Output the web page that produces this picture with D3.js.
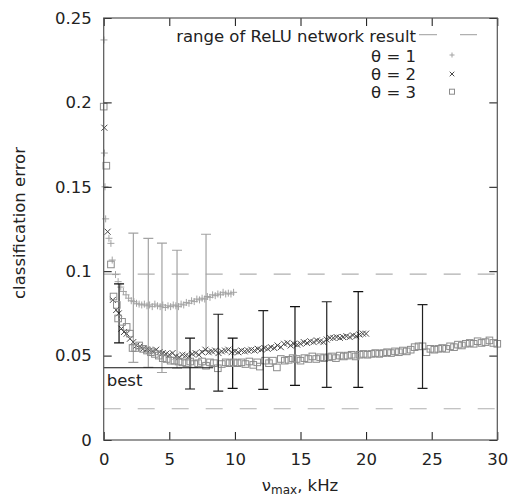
<!DOCTYPE html>
<html><head><meta charset="utf-8">
<script src="https://cdn.jsdelivr.net/npm/d3@7"></script>
<style>body{margin:0;background:#fff}svg{display:block}text{font-family:"DejaVu Sans",sans-serif}</style>
</head><body>
<script>
// ---- data ----
const xTicks = [0, 5, 10, 15, 20, 25, 30];
const yTicks = [0, 0.05, 0.1, 0.15, 0.2, 0.25];
const yTickLabels = ["0", "0.05", "0.1", "0.15", "0.2", "0.25"];
const reluRange = [0.0983, 0.0185];
const bestValue = 0.0428;
const bestXMax = 8.35;

const x1 = [0.02,0.05,0.1,0.15,0.4,0.55,0.65,0.9,1.1,1.3,1.5,1.7,1.9,2.1,2.3,2.5,2.7,2.9,3.1,3.3,3.5,3.7,3.9,4.1,4.3,4.5,4.7,4.9,5.1,5.3,5.5,5.7,5.9,6.1,6.3,6.5,6.7,6.9,7.1,7.3,7.5,7.7,7.9,8.1,8.3,8.5,8.7,8.9,9.1,9.3,9.5,9.7,9.9];
const y1 = [0.237,0.170,0.150,0.131,0.1195,0.1165,0.1066,0.098,0.0938,0.0906,0.088,0.086,0.084,0.0825,0.082,0.081,0.0805,0.080,0.0805,0.0795,0.080,0.079,0.0805,0.0795,0.079,0.080,0.0785,0.0795,0.079,0.080,0.0795,0.079,0.0805,0.080,0.0815,0.081,0.0825,0.082,0.0835,0.083,0.084,0.0835,0.085,0.0845,0.086,0.0855,0.0865,0.086,0.0875,0.0865,0.087,0.0865,0.0875];

const x2 = [0.05,0.3,0.7,0.95,1.15,1.35,1.55,1.75,2.0,2.25,2.5,2.75,3.0,3.25,3.5,3.75,4.0,4.25,4.5,4.75,5.0,5.25,5.5,5.75,6.0,6.25,6.5,6.75,7.0,7.25,7.5,7.75,8.0,8.25,8.5,8.75,9.0,9.25,9.5,9.75,10.0,10.25,10.5,10.75,11.0,11.25,11.5,11.75,12.0,12.25,12.5,12.75,13.0,13.25,13.5,13.75,14.0,14.25,14.5,14.75,15.0,15.25,15.5,15.75,16.0,16.25,16.5,16.75,17.0,17.25,17.5,17.75,18.0,18.25,18.5,18.75,19.0,19.25,19.5,19.75,20.0];
const y2 = [0.185,0.1234,0.083,0.077,0.075,0.066,0.064,0.063,0.060,0.058,0.056,0.0555,0.054,0.0535,0.053,0.0525,0.0535,0.052,0.0515,0.051,0.0505,0.0515,0.0495,0.049,0.0505,0.050,0.0495,0.051,0.0515,0.0505,0.052,0.0535,0.052,0.0525,0.053,0.0515,0.0525,0.053,0.0535,0.052,0.0525,0.052,0.053,0.0525,0.053,0.0535,0.053,0.054,0.0535,0.0545,0.054,0.055,0.0545,0.056,0.055,0.057,0.0575,0.056,0.057,0.0565,0.057,0.058,0.0575,0.0585,0.058,0.059,0.0585,0.058,0.0595,0.0605,0.0605,0.061,0.0605,0.061,0.0615,0.061,0.062,0.0615,0.0625,0.063,0.063];

const x3 = [0.0,0.2,0.55,0.75,1.0,1.1,1.4,1.75,2.0,2.2,2.4,2.7,3.0,3.3,3.6,3.9,4.2,4.5,4.8,5.1,5.4,5.7,6.0,6.3,6.6,6.9,7.2,7.5,7.8,8.1,8.4,8.7,9.0,9.3,9.6,9.9,10.2,10.5,10.8,11.1,11.4,11.7,11.9,12.3,12.6,12.9,13.2,13.5,13.8,14.1,14.4,14.7,15.0,15.3,15.6,15.9,16.2,16.5,16.8,17.1,17.4,17.7,18.0,18.3,18.6,18.9,19.2,19.5,19.8,20.1,20.4,20.7,21.0,21.3,21.6,21.9,22.2,22.5,22.8,23.1,23.4,23.7,24.0,24.3,24.6,24.9,25.2,25.5,25.8,26.1,26.4,26.7,27.0,27.3,27.6,27.9,28.2,28.5,28.8,29.1,29.4,29.7,30.0];
const y3 = [0.1975,0.1625,0.104,0.085,0.080,0.072,0.070,0.067,0.063,0.0545,0.0545,0.056,0.054,0.053,0.052,0.051,0.050,0.0485,0.048,0.047,0.047,0.0465,0.046,0.0455,0.0465,0.045,0.0455,0.0465,0.044,0.046,0.0455,0.0425,0.045,0.046,0.0455,0.046,0.0455,0.046,0.045,0.0465,0.0445,0.046,0.0435,0.047,0.0455,0.047,0.043,0.048,0.047,0.0475,0.0485,0.048,0.047,0.0485,0.048,0.0495,0.048,0.049,0.0485,0.049,0.0495,0.0485,0.050,0.0495,0.050,0.0505,0.0495,0.0505,0.051,0.0505,0.051,0.0515,0.051,0.0515,0.052,0.0515,0.0525,0.052,0.053,0.0525,0.0535,0.055,0.0555,0.0555,0.052,0.054,0.0535,0.054,0.0545,0.054,0.0555,0.055,0.0565,0.056,0.057,0.0575,0.057,0.0585,0.0575,0.058,0.059,0.0575,0.057];

const errX1 = [2.26, 3.4, 4.44, 5.59, 7.8];
const errLo1 = [0.046, 0.043, 0.040, 0.0425, 0.053];
const errHi1 = [0.1225, 0.1195, 0.1166, 0.1124, 0.1219];
const errX2 = [1.17, 6.58, 9.83, 14.58, 19.4];
const errLo2 = [0.0575, 0.0302, 0.0306, 0.0324, 0.0312];
const errHi2 = [0.0925, 0.0604, 0.0604, 0.079, 0.0879];
const errX3 = [8.73, 12.16, 17.0, 24.3];
const errLo3 = [0.029, 0.030, 0.0312, 0.0306];
const errHi3 = [0.0745, 0.0766, 0.0819, 0.0802];

const legendLabels = ["range of ReLU network result", "\u03b8 = 1", "\u03b8 = 2", "\u03b8 = 3"];

// ---- drawing ----
const W = 510, H = 497;
const L = 103.7, R = 497.3, T = 18, B = 440;
const x = d3.scaleLinear().domain([0, 30]).range([L, R]);
const y = d3.scaleLinear().domain([0, 0.25]).range([B, T]);

const svg = d3.select("body").append("svg").attr("width", W).attr("height", H);

const c1 = "#a3a3a3", c2 = "#4a4a4a", c3 = "#8c8c8c";

// dashed range lines
svg.append("g").selectAll("line").data(reluRange).join("line")
  .attr("x1", x(0)).attr("x2", x(30)).attr("y1", d => y(d)).attr("y2", d => y(d))
  .attr("stroke", "#b0b0b0").attr("stroke-width", 1.2).attr("stroke-dasharray", "17,17");

function plus(g, px, py, s, col) {
  g.append("path").attr("d", `M${px - s},${py}H${px + s}M${px},${py - s}V${py + s}`)
    .attr("stroke", col).attr("stroke-width", 1).attr("fill", "none");
}
function cross(g, px, py, s, col) {
  g.append("path").attr("d", `M${px - s},${py - s}L${px + s},${py + s}M${px - s},${py + s}L${px + s},${py - s}`)
    .attr("stroke", col).attr("stroke-width", 1).attr("fill", "none");
}
function square(g, px, py, s, col) {
  g.append("rect").attr("x", px - s).attr("y", py - s).attr("width", 2 * s).attr("height", 2 * s)
    .attr("stroke", col).attr("stroke-width", 1).attr("fill", "none");
}
function errBars(xs, lo, hi, col) {
  const g = svg.append("g").attr("stroke", col).attr("stroke-width", 1.2).attr("fill", "none");
  xs.forEach((v, i) => {
    const px = x(v), a = y(lo[i]), b = y(hi[i]);
    g.append("path").attr("d", `M${px},${a}V${b}M${px - 5},${a}H${px + 5}M${px - 5},${b}H${px + 5}`);
  });
}

const g1 = svg.append("g");
x1.forEach((v, i) => plus(g1, x(v), y(y1[i]), 3.5, c1));
errBars(errX1, errLo1, errHi1, c1);
const g2 = svg.append("g");
x2.forEach((v, i) => cross(g2, x(v), y(y2[i]), 3, c2));
errBars(errX2, errLo2, errHi2, "#111");
const g3 = svg.append("g");
x3.forEach((v, i) => square(g3, x(v), y(y3[i]), 3.3, c3));
errBars(errX3, errLo3, errHi3, "#222");

// best line
svg.append("line").attr("x1", x(0)).attr("x2", x(bestXMax)).attr("y1", y(bestValue)).attr("y2", y(bestValue))
  .attr("stroke", "#111").attr("stroke-width", 1.2);
const fs = 16.5;
svg.append("text").attr("x", x(0) + 3).attr("y", y(bestValue) + 18).attr("font-size", fs).attr("fill", "#222").text("best");

// axes
const ax = svg.append("g").attr("transform", `translate(0,${B})`)
  .call(d3.axisBottom(x).tickValues(xTicks).tickSizeInner(-8).tickSizeOuter(0).tickPadding(13).tickFormat(d3.format("d")));
const ay = svg.append("g").attr("transform", `translate(${L},0)`)
  .call(d3.axisLeft(y).tickValues(yTicks).tickSizeInner(-8).tickSizeOuter(0).tickPadding(12).tickFormat((d, i) => yTickLabels[i]));
const at = svg.append("g").attr("transform", `translate(0,${T})`)
  .call(d3.axisTop(x).tickValues(xTicks).tickSizeInner(-8).tickSizeOuter(0).tickFormat(""));
const ar = svg.append("g").attr("transform", `translate(${R},0)`)
  .call(d3.axisRight(y).tickValues(yTicks).tickSizeInner(-8).tickSizeOuter(0).tickFormat(""));
[ax, ay, at, ar].forEach(g => {
  g.select(".domain").remove();
  g.selectAll(".tick line").attr("stroke", "#111");
  g.selectAll(".tick text").attr("font-size", fs).attr("font-family", "DejaVu Sans").attr("fill", "#222");
});

// frame
svg.append("rect").attr("x", L).attr("y", T).attr("width", R - L).attr("height", B - T)
  .attr("fill", "none").attr("stroke", "#555").attr("stroke-width", 1.2);

// axis titles
svg.append("text").attr("transform", "translate(25,223) rotate(-90)").attr("text-anchor", "middle")
  .attr("font-size", fs).attr("fill", "#222").text("classification error");
const xt = svg.append("text").attr("x", 300).attr("y", 491).attr("text-anchor", "middle").attr("font-size", fs).attr("fill", "#222");
xt.append("tspan").text("\u03bd");
xt.append("tspan").attr("font-size", 12).attr("dy", 2.5).text("max");
xt.append("tspan").attr("dy", -2.5).text(", kHz");

// legend
const lg = svg.append("g");
const legY = [42, 61.5, 80, 98];
lg.selectAll("text").data(legendLabels).join("text")
  .attr("x", 416).attr("y", (d, i) => legY[i]).attr("text-anchor", "end")
  .attr("font-size", fs).attr("fill", "#222").text(d => d);
lg.append("line").attr("x1", 419).attr("x2", 477).attr("y1", 34.7).attr("y2", 34.7)
  .attr("stroke", "#b0b0b0").attr("stroke-width", 1.2).attr("stroke-dasharray", "18,23");
plus(lg, 452, 55, 2.5, c1);
cross(lg, 452, 74, 2.3, c2);
square(lg, 452, 91.7, 2.5, c3);
</script>
</body></html>
